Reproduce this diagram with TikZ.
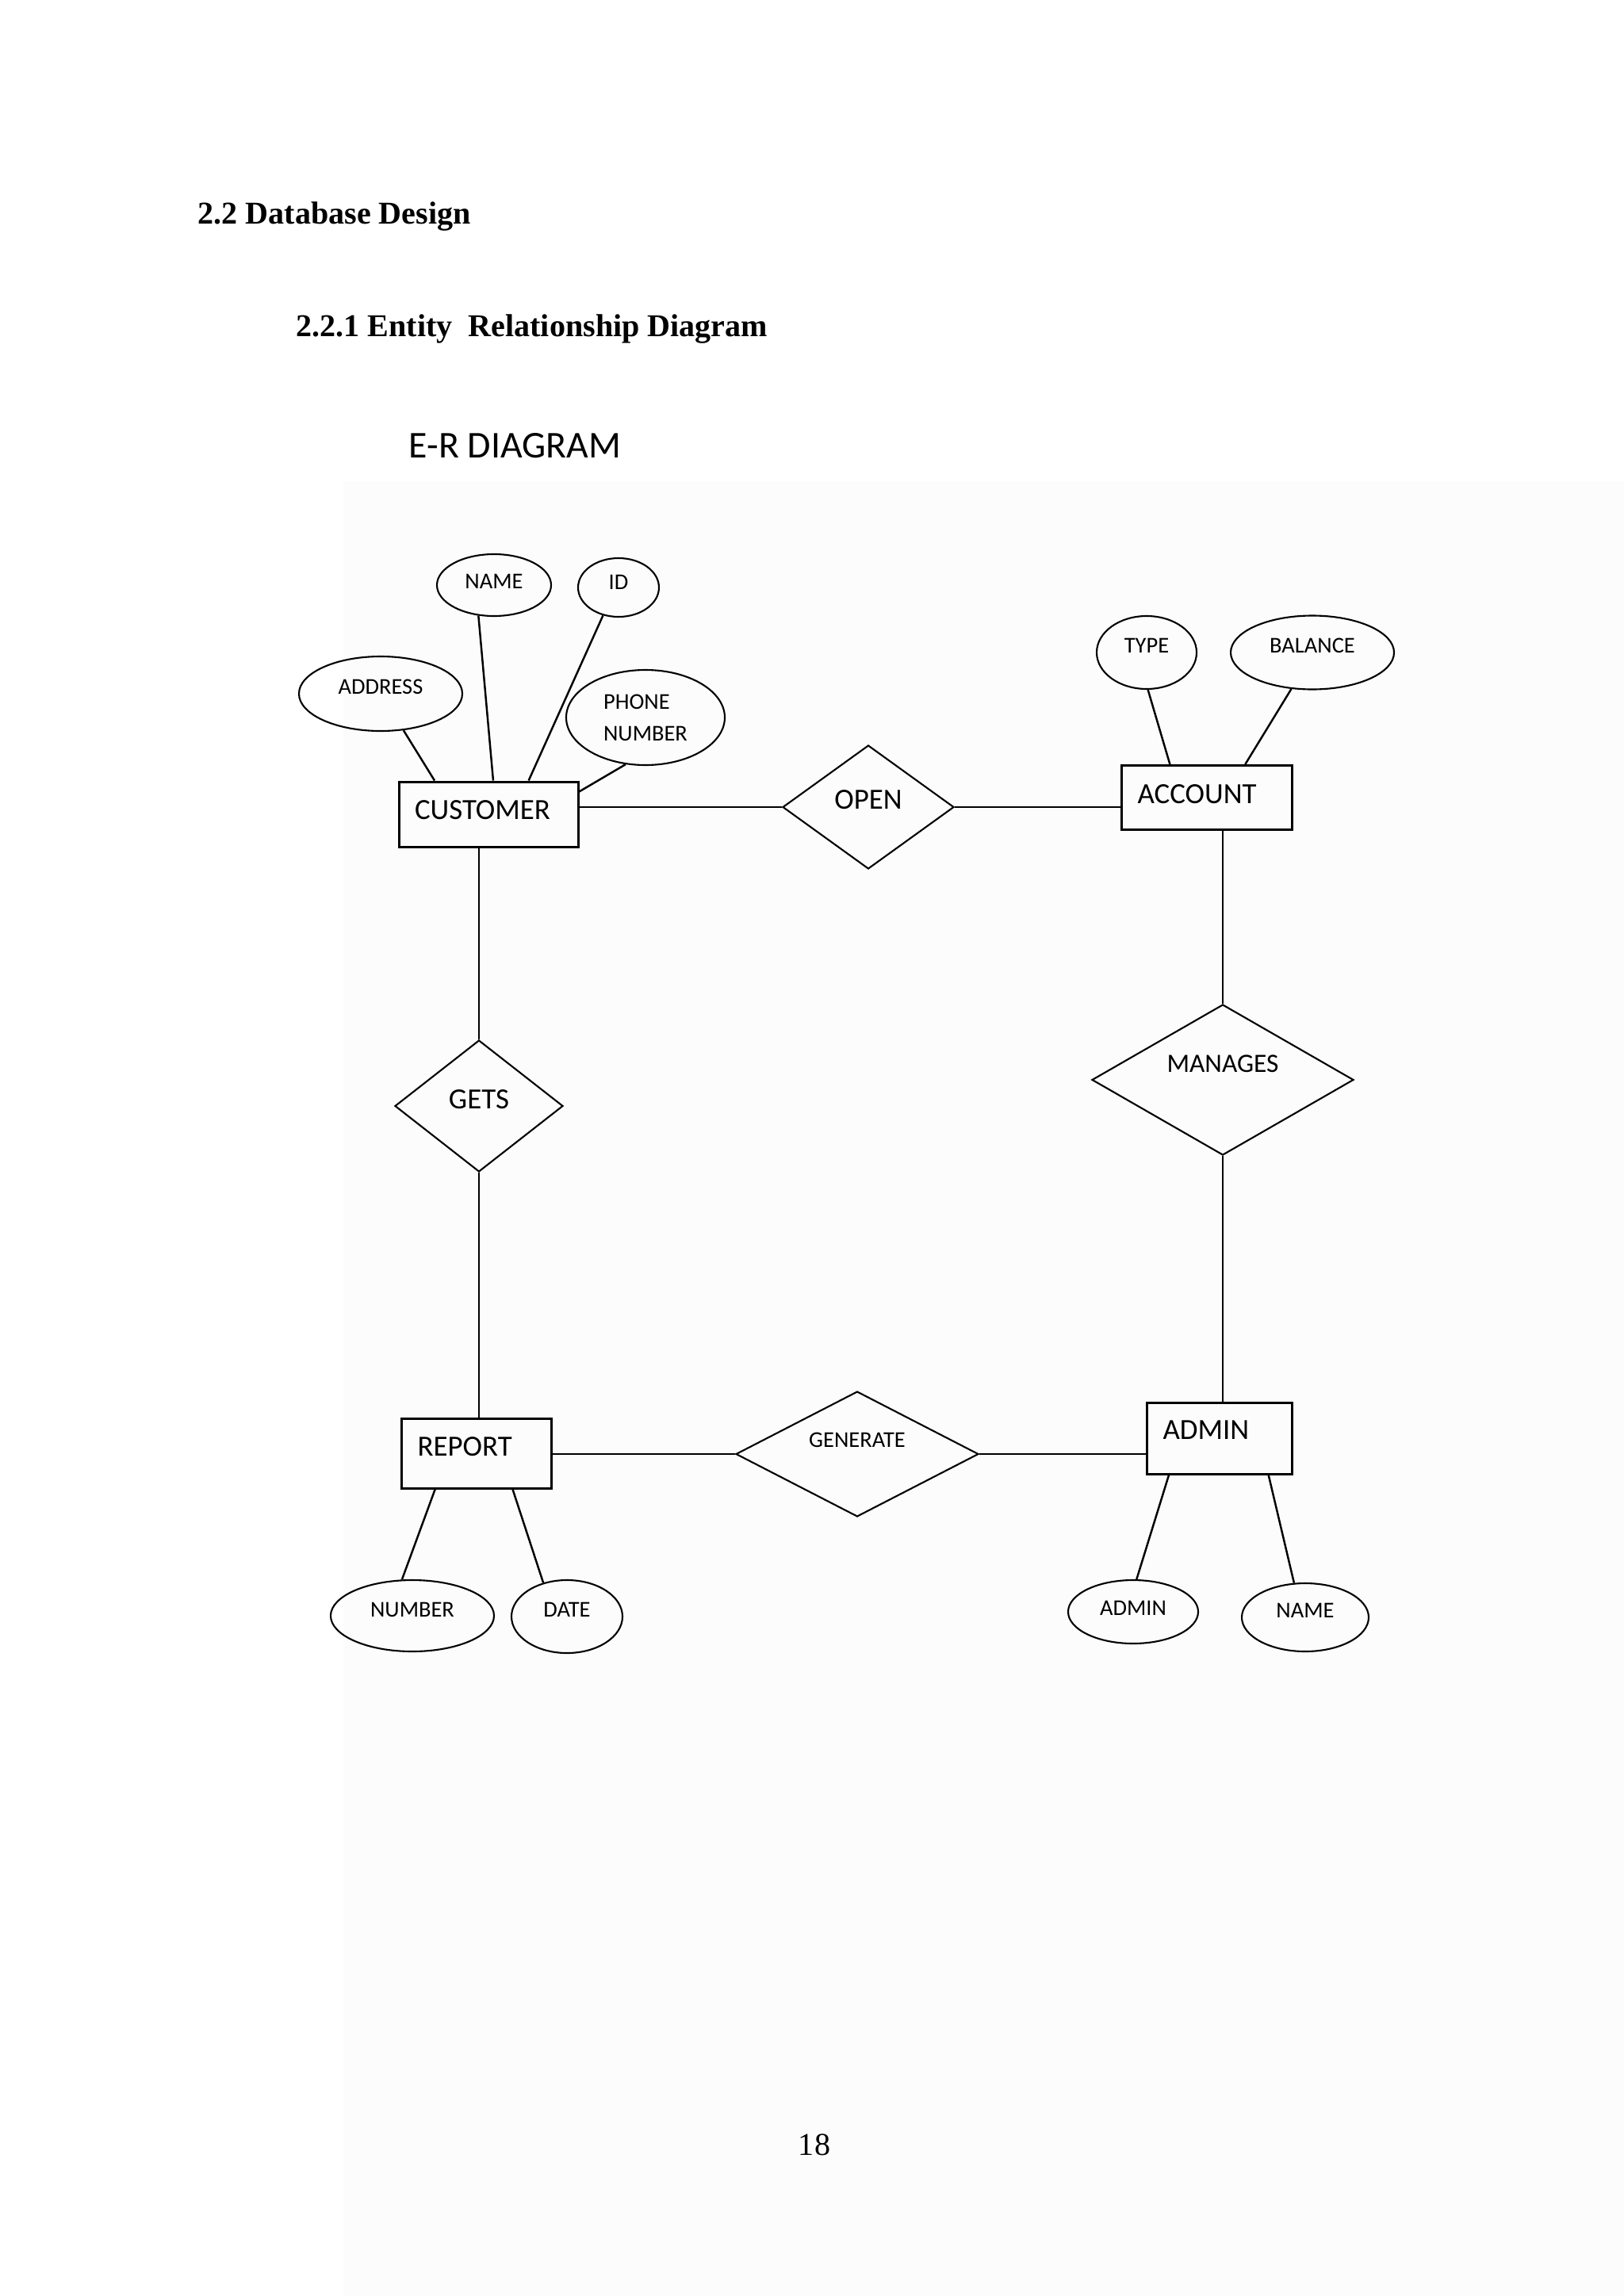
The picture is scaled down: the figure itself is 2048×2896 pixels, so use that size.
\documentclass[tikz,border=0pt]{standalone}
\usepackage{fontspec}
\setmainfont{Liberation Serif}
\newfontfamily\erfont{Carlito}
\usetikzlibrary{calc,shapes.geometric}

\definecolor{pageshade}{RGB}{252,252,252}

\begin{document}
\begin{tikzpicture}[
    x=0.1mm, y=-0.1mm,
    heading/.style={anchor=base west, inner sep=0pt,
      font=\bfseries\fontsize{11.4}{13.7}\selectfont},
    entity/.style={rectangle, draw=black, line width=0.85pt, inner xsep=2mm,
      inner ysep=0pt, align=left, text height=6.6pt,
      font=\erfont\fontsize{10.5}{12.6}\selectfont},
    rel/.style={diamond, aspect=2, draw=black, line width=0.6pt, inner sep=0pt,
      text height=6.6pt, font=\erfont\fontsize{10.5}{12.6}\selectfont},
    attr/.style={ellipse, draw=black, line width=0.6pt, inner sep=0pt,
      align=left, text height=5.1pt, text depth=4.6pt,
      font=\erfont\fontsize{8.1}{11.4}\selectfont},
    link/.style={black, line width=0.7pt}
  ]

  \useasboundingbox (0,0) rectangle (2048,2896);
  \fill[pageshade] (433,607) rectangle (2048,2896);

  % page headings

  \node (sec)    [heading] at (249,283) {2.2 Database Design};
  \node (subsec) [heading] at (373,425) {2.2.1 Entity\ \ Relationship Diagram};
  \node (title)  [anchor=base west, inner sep=0pt,
                  font=\erfont\fontsize{13.6}{16}\selectfont]
                 at (515,577) {E-R DIAGRAM};

  % entities

  \node (cust) [entity, text width=18.6mm, minimum height=8.2mm,
                text depth=3.0pt]  at (616,1027)  {CUSTOMER};
  \node (acct) [entity, text width=17.5mm, minimum height=8.1mm,
                text depth=2.2pt]  at (1522,1006) {ACCOUNT};
  \node (rep)  [entity, text width=14.9mm, minimum height=8.8mm,
                text depth=4.75pt] at (601,1833)  {REPORT};
  \node (adm)  [entity, text width=14.3mm, minimum height=9mm,
                text depth=5.9pt]  at (1538,1814) {ADMIN};

  % relationships

  \node (open) [rel, minimum width=21.6mm, minimum height=15.6mm,
                text depth=5.3pt]  at (1095,1018) {OPEN};
  \node (gets) [rel, minimum width=21.2mm, minimum height=16.6mm,
                text depth=4.75pt] at (604,1395)  {GETS};
  \node (mng)  [rel, minimum width=33mm, minimum height=19mm,
                text height=6pt, text depth=11.6pt,
                font=\erfont\fontsize{9.5}{11.4}\selectfont]
               at (1542,1362) {MANAGES};
  \node (gen)  [rel, minimum width=30.6mm, minimum height=15.8mm,
                text height=5.1pt, text depth=9.7pt,
                font=\erfont\fontsize{8.1}{11.4}\selectfont]
               at (1081,1834) {GENERATE};

  % attributes

  \node (cname)  [attr, minimum width=14.4mm, minimum height=7.8mm,
                  text depth=2.3pt] at (623,738)  {NAME};
  \node (cid)    [attr, minimum width=10.2mm, minimum height=7.4mm,
                  text depth=3.4pt] at (780,741)  {ID};
  \node (caddr)  [attr, minimum width=20.6mm, minimum height=9.4mm,
                  text depth=5.1pt] at (480,875)  {ADDRESS};
  \node (cphone) [attr, minimum width=20mm, minimum height=12mm,
                  text height=, text depth=] at (814,905) {PHONE\\NUMBER};

  \node (atype)  [attr, minimum width=12.6mm, minimum height=9.2mm] at (1446,823) {TYPE};
  \node (abal)   [attr, minimum width=20.6mm, minimum height=9.3mm] at (1655,823) {BALANCE};

  \node (rnum)   [attr, minimum width=20.6mm, minimum height=9mm,
                  text depth=4pt] at (520,2038) {NUMBER};
  \node (rdate)  [attr, minimum width=14mm, minimum height=9.2mm] at (715,2039) {DATE};

  \node (aid)    [attr, minimum width=16.4mm, minimum height=8mm,
                  text depth=2.8pt] at (1429,2033) {ADMIN};
  \node (aname)  [attr, minimum width=16mm, minimum height=8.6mm] at (1646,2040) {NAME};

  % connectors

  \draw[link] (caddr.-58)  -- (cust.148);
  \draw[link] (cname.-117) -- (cust.82);
  \draw[link] (cid.-119)   -- (cust.40);
  \draw[link] (cphone.-113) -- (cust.14);

  \draw[link] (open.west) -- (open.west -| cust.east);
  \draw[link] (open.east) -- (open.east -| acct.west);

  \draw[link] (atype.-88) -- (acct.138);
  \draw[link] (abal.-120) -- (acct.41);

  \draw[link] (mng.north) -- (mng.north |- acct.south);
  \draw[link] (mng.south) -- (mng.south |- adm.north);

  \draw[link] (gets.north) -- (gets.north |- cust.south);
  \draw[link] (gets.south) -- (gets.south |- rep.north);

  \draw[link] (gen.west) -- (gen.west -| rep.east);
  \draw[link] (gen.east) -- (gen.east -| adm.west);

  \draw[link] (rnum.106)  -- (rep.-139);
  \draw[link] (rdate.125) -- (rep.-45);
  \draw[link] (aid.84)    -- (adm.-144);
  \draw[link] (aname.108) -- (adm.-37);

  % page number

  \node (pgno) [anchor=base, inner sep=0pt, font=\fontsize{11.4}{13.7}\selectfont]
               at (1027,2718) {18};

\end{tikzpicture}
\end{document}
